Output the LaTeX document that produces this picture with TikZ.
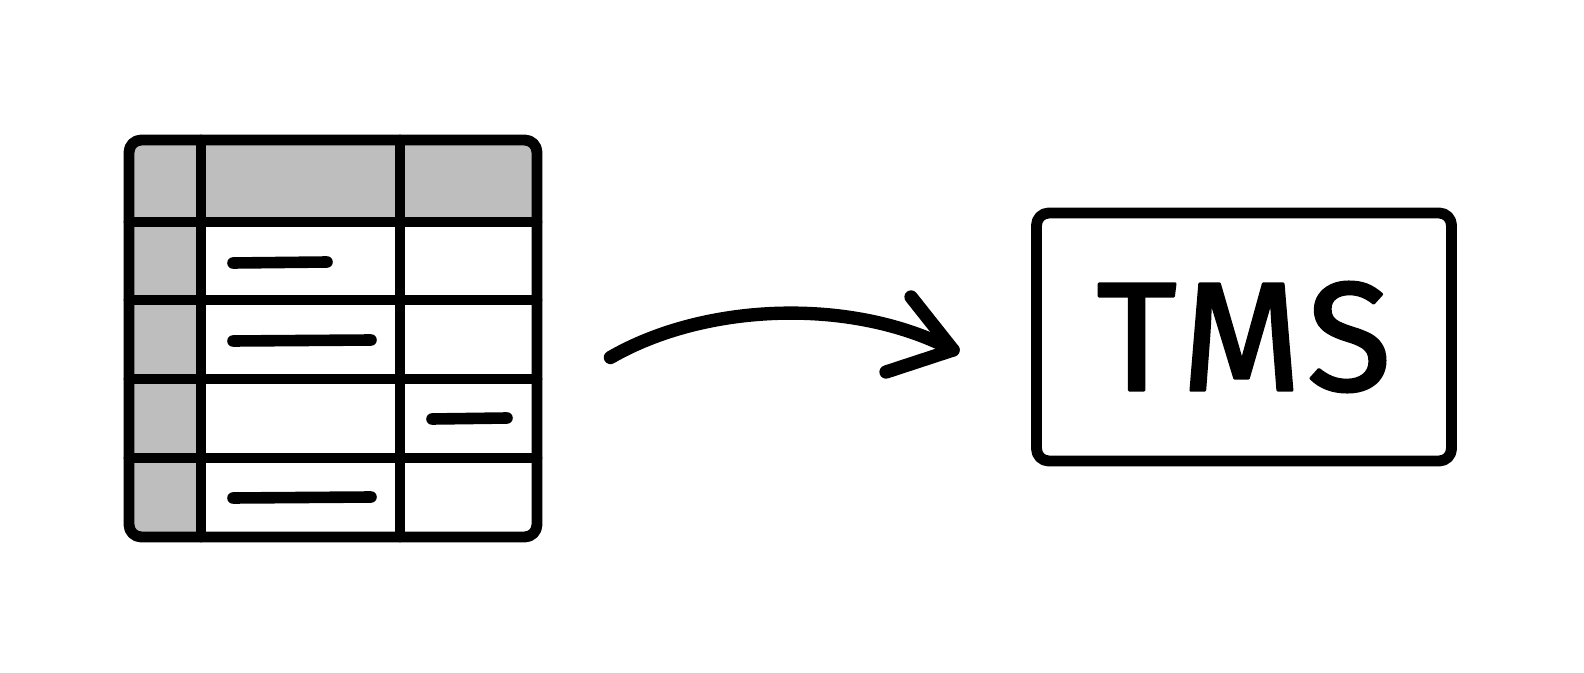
\documentclass[tikz,border=0pt]{standalone}
\usepackage{fontspec}
\usepackage{tikz}
\usetikzlibrary{calc, positioning}
\newfontfamily\tmsfont[FakeBold=1.8, LetterSpace=5]{Fira Sans}
\definecolor{cellgray}{RGB}{190, 190, 190}

\begin{document}
\begin{tikzpicture}[line join=round, line cap=round,
    ink/.style={line width=3.1pt, draw=black},
    dashmark/.style={line width=3.3pt, draw=black}]
    \useasboundingbox (0,0) rectangle (15.84,6.72);

    % Tabelle
    \fill[cellgray] (1.29,5.32) rectangle (5.37,4.50);
    \fill[cellgray] (1.29,4.50) rectangle (2.01,1.35);
    \draw[ink] (2.01,5.32) -- (2.01,1.35);
    \draw[ink] (4.00,5.32) -- (4.00,1.35);
    \foreach \y in {4.50, 3.72, 2.93, 2.14}
        \draw[ink] (1.29,\y) -- (5.37,\y);
    \node[ink, rounded corners=3.5pt, minimum width=4.08cm, minimum height=3.97cm,
        inner sep=0pt] (tbl) at (3.33,3.335) {};

    % Striche in den Zellen
    \draw[dashmark] (2.33,4.09) -- (3.27,4.10);
    \draw[dashmark] (2.33,3.31) -- (3.71,3.32);
    \draw[dashmark] (4.32,2.53) -- (5.07,2.54);
    \draw[dashmark] (2.33,1.74) -- (3.71,1.75);

    % TMS-Kasten
    \node[ink, rounded corners=3.5pt, minimum width=4.15cm, minimum height=2.48cm,
        inner sep=0pt, font=\tmsfont\fontsize{44}{44}\selectfont] (tms) at (12.44,3.35) {TMS};

    % Pfeil
    \coordinate (arrS) at ($(tbl.east)+(0.68,-0.19)$);
    \coordinate (arrE) at ($(tms.west)+(-0.78,-0.13)$);
    \draw[ink, line width=3.8pt] (arrS) .. controls +(0.95,0.55) and +(-1.0,0.53) .. (arrE);
    \draw[ink, line width=3.8pt] ($(arrE)+(-0.42,0.53)$) -- (arrE) -- ++(-0.67,-0.22);
\end{tikzpicture}
\end{document}
